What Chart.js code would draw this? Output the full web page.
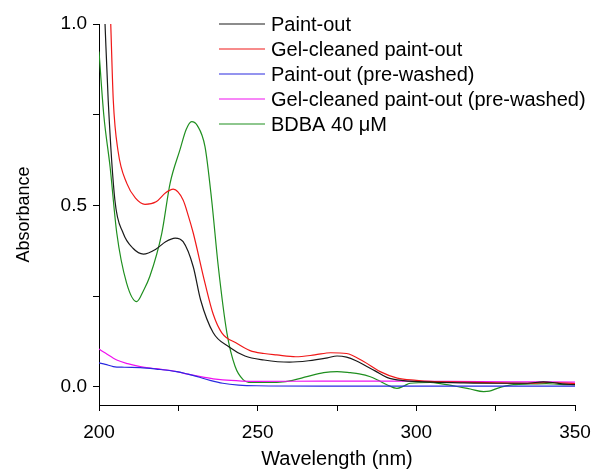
<!DOCTYPE html>
<html>
<head>
<meta charset="utf-8">
<script src="https://cdn.jsdelivr.net/npm/chart.js@4/dist/chart.umd.min.js"></script>
<style>
  html, body { margin: 0; padding: 0; background: #fff; }
  canvas { display: block; }
</style>
</head>
<body>
<canvas id="spectra" width="593" height="472"></canvas>
<script>
// UV-vis spectra of the paint-out extracts
const seriesLabels = [
  'Paint-out',
  'Gel-cleaned paint-out',
  'Paint-out (pre-washed)',
  'Gel-cleaned paint-out (pre-washed)',
  'BDBA 40 \u03BCM'
];
const seriesColors = ['#1a1a1a', '#f01818', '#2a2ae0', '#f010f0', '#1f8f1f'];

const paintOutWl  = [200, 201.9, 202.9, 205, 207.6, 210.7, 214, 218, 221, 224, 226.5, 229.7, 232, 236, 241, 246, 252, 260, 266, 272, 275, 278, 281, 284, 287, 290.7, 296, 305, 315, 325, 335, 340, 343, 346, 350];
const paintOutAbs = [1.42, 1.0, 0.79, 0.515, 0.424, 0.382, 0.366, 0.38, 0.40, 0.41, 0.40, 0.331, 0.24, 0.149, 0.11, 0.085, 0.074, 0.068, 0.072, 0.08, 0.085, 0.082, 0.072, 0.058, 0.044, 0.026, 0.017, 0.013, 0.011, 0.01, 0.01, 0.014, 0.012, 0.008, 0.006];

const gelWl  = [200, 203.7, 204.5, 206, 208.8, 211.5, 214.5, 218, 221, 223.4, 226.5, 228.2, 229.7, 233.4, 236, 238.7, 243.4, 247.6, 252, 256, 262, 268, 273, 278, 283.4, 288.6, 294, 300, 304.4, 315, 325.5, 335, 342, 350];
const gelAbs = [1.95, 1.0, 0.79, 0.65, 0.56, 0.52, 0.503, 0.51, 0.535, 0.545, 0.515, 0.47, 0.424, 0.286, 0.2, 0.149, 0.12, 0.1, 0.092, 0.088, 0.083, 0.088, 0.094, 0.092, 0.07, 0.042, 0.024, 0.018, 0.015, 0.013, 0.011, 0.01, 0.012, 0.009];

const preWashedWl  = [200, 202, 204.5, 208, 213, 218, 224.5, 228, 231, 235, 239, 244, 249.7, 270, 300, 330, 350];
const preWashedAbs = [0.066, 0.062, 0.056, 0.054, 0.053, 0.049, 0.042, 0.035, 0.028, 0.018, 0.01, 0.005, 0.003, 0.002, 0.002, 0.002, 0.002];

const gelPreWashedWl  = [200, 202, 205.6, 209, 213, 218, 224.5, 228, 232, 236, 239, 245, 250, 270, 290, 310, 330, 350];
const gelPreWashedAbs = [0.104, 0.093, 0.074, 0.064, 0.056, 0.05, 0.042, 0.035, 0.028, 0.022, 0.019, 0.016, 0.015, 0.016, 0.016, 0.015, 0.014, 0.013];

const bdbaWl  = [200, 201.5, 203.5, 205.6, 208.7, 211.9, 214, 216, 219.8, 222.4, 225.5, 227.5, 229.2, 231, 233.4, 235.5, 237.6, 240.3, 242.9, 245.4, 248, 251.7, 257, 261, 265.5, 270.8, 275, 279.2, 282, 285.5, 288, 290.7, 293.9, 296, 298, 304.4, 308, 312.8, 317, 321.2, 323, 325.5, 330.6, 336, 341, 345, 350];
const bdbaAbs = [0.924, 0.75, 0.606, 0.424, 0.286, 0.235, 0.265, 0.304, 0.424, 0.561, 0.653, 0.71, 0.731, 0.72, 0.662, 0.515, 0.331, 0.149, 0.056, 0.02, 0.012, 0.012, 0.013, 0.018, 0.028, 0.039, 0.042, 0.039, 0.036, 0.028, 0.018, 0.006, -0.004, 0.002, 0.01, 0.012, 0.008, 0.001, -0.006, -0.013, -0.012, -0.004, 0.006, 0.008, 0.009, 0.007, 0.006];

const yTickValues = [0, 0.25, 0.5, 0.75, 1.0];
const yLabelValues = [0, 0.5, 1.0];
const xLabelValues = [200, 250, 300, 350];

const FONT = "'Liberation Sans', Arial, sans-serif";

function toPoints(xs, ys) {
  return xs.map((x, i) => ({ x, y: ys[i] }));
}

const seriesData = [
  toPoints(paintOutWl, paintOutAbs),
  toPoints(gelWl, gelAbs),
  toPoints(preWashedWl, preWashedAbs),
  toPoints(gelPreWashedWl, gelPreWashedAbs),
  toPoints(bdbaWl, bdbaAbs)
];

// legend drawn inside the plot, top right, like the original figure
const insideLegend = {
  id: 'insideLegend',
  afterDraw(chart) {
    const { ctx, chartArea } = chart;
    const x0 = chartArea.left + 120;
    const y0 = chartArea.top;
    ctx.save();
    ctx.font = '20px ' + FONT;
    ctx.textBaseline = 'middle';
    chart.data.datasets.forEach((ds, i) => {
      const y = y0 + i * 25;
      ctx.strokeStyle = ds.borderColor;
      ctx.lineWidth = 1.2;
      ctx.beginPath();
      ctx.moveTo(x0, y);
      ctx.lineTo(x0 + 46, y);
      ctx.stroke();
      ctx.fillStyle = '#000';
      ctx.fillText(ds.label, x0 + 52, y + 1);
    });
    ctx.restore();
  }
};

new Chart(document.getElementById('spectra'), {
  type: 'line',
  data: {
    datasets: seriesLabels.map((label, i) => ({
      label,
      data: seriesData[i],
      borderColor: seriesColors[i],
      borderWidth: 1.2,
      pointRadius: 0,
      cubicInterpolationMode: 'monotone',
      fill: false
    }))
  },
  options: {
    responsive: false,
    animation: false,
    layout: { padding: { top: 24, right: 18, bottom: 0, left: 0 } },
    plugins: {
      legend: { display: false },
      tooltip: { enabled: false }
    },
    scales: {
      x: {
        type: 'linear',
        min: 200,
        max: 350,
        afterFit: s => {
          s.height = 67;
          s.paddingLeft = 0;
          s.paddingRight = 0;
        },
        ticks: {
          stepSize: 25,
          padding: 10,
          color: '#000',
          font: { family: FONT, size: 19 },
          callback: v => xLabelValues.includes(v) ? String(v) : ''
        },
        grid: { drawOnChartArea: false, drawTicks: true, tickLength: 6, color: '#000' },
        border: { display: true, color: '#000', width: 1 },
        title: {
          display: true,
          text: 'Wavelength (nm)',
          color: '#000',
          font: { family: FONT, size: 20 },
          padding: { top: 2, bottom: 1 }
        }
      },
      y: {
        min: -0.05,
        max: 1.0,
        afterFit: s => { s.width = 99; },
        afterBuildTicks: s => { s.ticks = yTickValues.map(v => ({ value: v })); },
        ticks: {
          padding: 6,
          color: '#000',
          font: { family: FONT, size: 19 },
          callback: v => yLabelValues.some(l => Math.abs(l - v) < 1e-9) ? v.toFixed(1) : ''
        },
        grid: { drawOnChartArea: false, drawTicks: true, tickLength: 6, color: '#000' },
        border: { display: true, color: '#000', width: 1 },
        title: {
          display: true,
          text: 'Absorbance',
          color: '#000',
          font: { family: FONT, size: 18 },
          padding: { top: 13, bottom: 4 }
        }
      }
    }
  },
  plugins: [insideLegend]
});
</script>
</body>
</html>
